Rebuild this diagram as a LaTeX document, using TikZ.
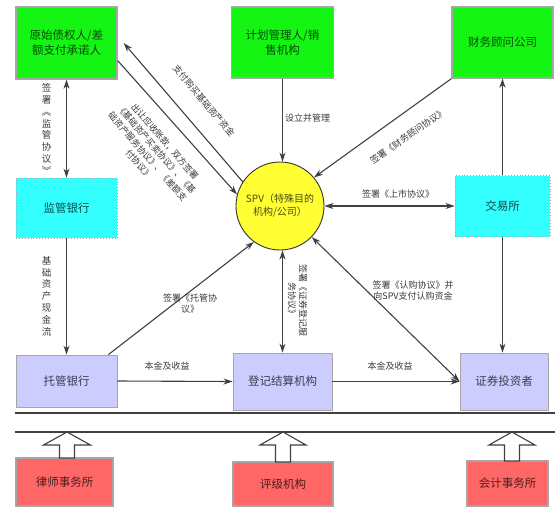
\documentclass[tikz,border=0pt]{standalone}
\usepackage{fontspec}
\setmainfont{Noto Sans CJK SC}
\usetikzlibrary{arrows.meta,calc}

\definecolor{gfill}{HTML}{14F514}
\definecolor{cfill}{HTML}{33FFFF}
\definecolor{yfill}{HTML}{FFFF33}
\definecolor{lfill}{HTML}{CCCCFF}
\definecolor{rfill}{HTML}{FF6666}
\definecolor{edgegray}{HTML}{A6A6A6}
\definecolor{linegray}{HTML}{404040}
\definecolor{labelgray}{HTML}{3A3A3A}

\begin{document}
\begin{tikzpicture}[x=1pt,y=-1pt,
  basebox/.style={rectangle, inner sep=2pt, align=center,
    font=\fontsize{11.5}{15}\selectfont},
  gbox/.style={basebox, fill=gfill, draw=edgegray, line width=1.4pt, text=gfill!30!black},
  cbox/.style={basebox, fill=cfill, draw=black!35, dotted, line width=0.9pt, text=cfill!30!black},
  lbox/.style={basebox, fill=lfill, draw=edgegray, line width=0.9pt, text=lfill!30!black},
  rbox/.style={basebox, fill=rfill, draw=edgegray, line width=1.2pt, text=rfill!30!black},
  spvnode/.style={circle, fill=yfill, draw=black!80, line width=0.9pt, minimum size=88pt,
    inner sep=0pt, align=center, font=\fontsize{10}{13}\selectfont, text=yfill!30!black},
  arr/.style={draw=linegray, line width=1.1pt, -{Stealth[length=9pt,width=6pt]}},
  darr/.style={draw=linegray, line width=1.1pt, {Stealth[length=9pt,width=6pt]}-{Stealth[length=9pt,width=6pt]}},
  lbl/.style={font=\fontsize{9}{11}\selectfont, text=labelgray, align=center, inner sep=0pt},
  vlbl/.style={font=\fontsize{9.5}{11.8}\selectfont, text=labelgray, align=center, inner sep=0pt},
  bar/.style={draw=linegray, line width=1.8pt},
  blockarr/.style={draw=linegray, fill=white, line width=1.1pt, line join=miter}
]
\useasboundingbox (0,0) rectangle (557,507);

% participants
\node[gbox, minimum width=101pt, minimum height=72pt] (orig) at (66.5,43) {原始债权人/差\\额支付承诺人};
\node[gbox, minimum width=102pt, minimum height=71pt] (mgr) at (282.5,42.5) {计划管理人/销\\售机构};
\node[gbox, minimum width=101pt, minimum height=71pt] (fin) at (502.5,42.5) {财务顾问公司};
\node[cbox, minimum width=101pt, minimum height=60pt] (sup) at (66.5,208) {监管银行};
\node[cbox, minimum width=95pt, minimum height=61pt] (exch) at (502.5,206) {交易所};
\node[spvnode] (spv) at (280,206) {SPV（特殊目的\\机构/公司）};
\node[lbox, minimum width=101pt, minimum height=52pt] (cust) at (66.5,381) {托管银行};
\node[lbox, minimum width=99pt, minimum height=57pt] (reg) at (282.5,381.5) {登记结算机构};
\node[lbox, minimum width=88pt, minimum height=57pt] (inv) at (504,381.5) {证券投资者};
\node[rbox, minimum width=97pt, minimum height=48pt] (law) at (64.5,482) {律师事务所};
\node[rbox, minimum width=100pt, minimum height=44pt] (rate) at (283,484) {评级机构};
\node[rbox, minimum width=81pt, minimum height=45pt] (acct) at (507.5,483.5) {会计事务所};

% flows between participants
\draw[darr] (orig.south) -- (sup.north);
\draw[arr] (sup.south) -- (cust.north);
\draw[arr] (mgr.south) -- (mgr.south |- spv.north);
\draw[arr] (fin.south west) -- (spv.40);
\draw[darr] (spv.east) -- (exch.west);
\draw[arr] (exch.north) -- (exch.north |- fin.south);
\draw[arr] (exch.south) -- (exch.south |- inv.north);
\draw[darr] (spv) -- (inv.west);
\draw[arr] (spv.147) -- ([xshift=6pt]orig.east);
\draw[arr] (orig.-19) -- (spv.165);
\draw[arr] ([xshift=-9pt]cust.north east) -- (spv.-126);
\draw[darr] (reg.north) -- (reg.north |- spv.south);
\draw[arr] (cust.east) -- (reg.west);
\draw[arr] (reg.east) -- (inv.west);

% flow labels
\node[vlbl] (lSup) at (46.5,129) {签\\署\\︽\\监\\管\\协\\议\\︾};
\node[vlbl] (lCash) at (46.5,296) {基\\础\\资\\产\\现\\金\\流};
\node[lbl, anchor=west] (lSet) at (285,118) {设立并管理};
\node[lbl, rotate=35] (lFin) at (408,136) {签署《财务顾问协议》};
\node[lbl] (lList) at (398,194) {签署《上市协议》};
\node[lbl, rotate=-50] (lPay) at (204,101) {支付购买基础资产资金};
\node[lbl, rotate=-49, font=\fontsize{8.8}{11.5}\selectfont] (lSell) at (152,153)
  {出让应收账款，双方签署\\《基础资产买卖协议》、《基\\础资产服务协议》、《差额支\\付协议》};
\node[lbl] (lCust) at (190,304) {签署《托管协\\议》};
\node[lbl, rotate=-90] (lReg) at (297.5,300) {签署《证券登记服\\务协议》};
\node[lbl] (lBuy) at (413,291) {签署《认购协议》并\\向SPV支付认购资金};
\node[lbl] (lPr1) at (167,366) {本金及收益};
\node[lbl] (lPr2) at (390,366) {本金及收益};

% service providers below the divider
\draw[blockarr] (67,432) -- (90.5,445) -- (74.5,445) -- (74.5,458) -- (59.5,458) -- (59.5,445) -- (43.5,445) -- cycle;
\draw[blockarr] (283,432) -- (306,445) -- (290.5,445) -- (290.5,462) -- (275.5,462) -- (275.5,445) -- (260,445) -- cycle;
\draw[blockarr] (512,432) -- (535,445) -- (519.5,445) -- (519.5,461) -- (504.5,461) -- (504.5,445) -- (489,445) -- cycle;
\draw[bar] (15,413) -- (555,413);
\draw[bar] (15,432) -- (555,432);
\end{tikzpicture}
\end{document}
